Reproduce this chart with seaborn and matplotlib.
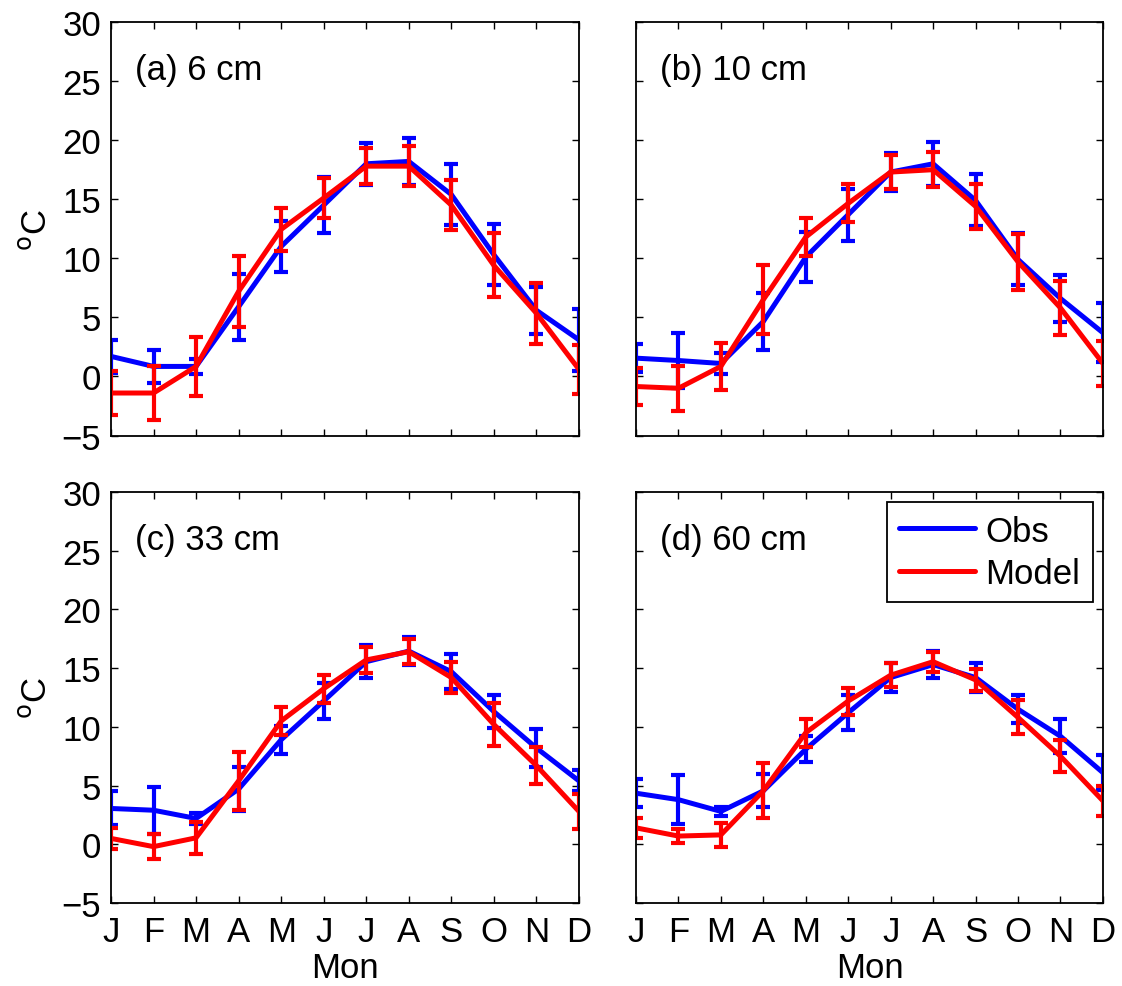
import numpy as np
import pandas as pd
import matplotlib
matplotlib.use("Agg")
import matplotlib.pyplot as plt
import seaborn as sns

# monthly soil temperature climatology, obs vs model, at four depths
months = ['J', 'F', 'M', 'A', 'M', 'J', 'J', 'A', 'S', 'O', 'N', 'D']
depths = ['(a) 6 cm', '(b) 10 cm', '(c) 33 cm', '(d) 60 cm']

obs_6 = [1.7, 0.85, 0.85, 5.9, 11.0, 14.5, 18.0, 18.2, 15.4, 10.3, 5.6, 3.1]
obs_6_err = [1.4, 1.4, 0.6, 2.8, 2.2, 2.4, 1.8, 2.0, 2.6, 2.6, 2.0, 2.6]
mod_6 = [-1.4, -1.4, 0.85, 7.2, 12.45, 15.1, 17.8, 17.8, 14.5, 9.4, 5.35, 0.6]
mod_6_err = [1.9, 2.3, 2.5, 3.0, 1.8, 1.7, 1.5, 1.7, 2.1, 2.7, 2.6, 2.1]

obs_10 = [1.55, 1.35, 1.1, 4.65, 10.1, 13.7, 17.3, 18.0, 14.9, 9.9, 6.6, 3.7]
obs_10_err = [1.2, 2.3, 0.9, 2.4, 2.1, 2.2, 1.6, 1.85, 2.2, 2.2, 2.0, 2.5]
mod_10 = [-0.85, -1.0, 0.85, 6.5, 11.8, 14.65, 17.3, 17.5, 14.4, 9.7, 5.8, 1.1]
mod_10_err = [1.6, 1.9, 2.0, 2.9, 1.6, 1.6, 1.45, 1.5, 1.9, 2.35, 2.25, 1.9]

obs_33 = [3.05, 2.9, 2.2, 4.7, 8.9, 12.2, 15.55, 16.45, 14.7, 11.3, 8.2, 5.4]
obs_33_err = [1.45, 2.0, 0.5, 1.9, 1.2, 1.5, 1.4, 1.2, 1.5, 1.4, 1.6, 0.9]
mod_33 = [0.5, -0.2, 0.55, 5.4, 10.5, 13.25, 15.7, 16.4, 14.2, 10.2, 6.7, 2.8]
mod_33_err = [0.9, 1.05, 1.35, 2.5, 1.2, 1.2, 1.1, 1.05, 1.3, 1.8, 1.6, 1.5]

obs_60 = [4.35, 3.8, 2.8, 4.55, 8.1, 11.2, 14.2, 15.3, 14.2, 11.5, 9.2, 6.1]
obs_60_err = [1.2, 2.1, 0.4, 1.4, 1.1, 1.5, 1.2, 1.15, 1.2, 1.2, 1.45, 1.5]
mod_60 = [1.4, 0.7, 0.8, 4.55, 9.5, 12.2, 14.4, 15.55, 14.0, 10.8, 7.5, 3.7]
mod_60_err = [0.85, 0.6, 1.0, 2.35, 1.2, 1.15, 1.0, 0.85, 0.95, 1.45, 1.35, 1.3]

series = {
    depths[0]: (obs_6, obs_6_err, mod_6, mod_6_err),
    depths[1]: (obs_10, obs_10_err, mod_10, mod_10_err),
    depths[2]: (obs_33, obs_33_err, mod_33, mod_33_err),
    depths[3]: (obs_60, obs_60_err, mod_60, mod_60_err),
}

# long table for seaborn
rows = []
for depth, (o, oe, m, me) in series.items():
    for i in range(12):
        rows.append({'depth': depth, 'month': i + 1, 'source': 'Obs', 'temp': o[i], 'err': oe[i]})
        rows.append({'depth': depth, 'month': i + 1, 'source': 'Model', 'temp': m[i], 'err': me[i]})
df = pd.DataFrame(rows)

palette = {'Obs': (0, 0, 1), 'Model': (1, 0, 0)}

sns.set_style('ticks', {'xtick.direction': 'in', 'ytick.direction': 'in',
                        'axes.edgecolor': 'black', 'text.color': 'black',
                        'axes.labelcolor': 'black', 'xtick.color': 'black',
                        'ytick.color': 'black'})
plt.rcParams['font.family'] = ['Liberation Sans', 'DejaVu Sans']
plt.rcParams['axes.linewidth'] = 1.3

FS = 25

fig = plt.figure(figsize=(11.22, 9.87), dpi=100)
positions = [
    [0.0989, 0.5577, 0.4171, 0.4190],
    [0.5668, 0.5577, 0.4162, 0.4190],
    [0.0989, 0.0841, 0.4171, 0.4164],
    [0.5668, 0.0841, 0.4162, 0.4164],
]

for k, depth in enumerate(depths):
    ax = fig.add_axes(positions[k])
    sub = df[df['depth'] == depth]
    for src in ['Obs', 'Model']:
        d = sub[sub['source'] == src]
        sns.lineplot(data=d, x='month', y='temp', color=palette[src], lw=3.6,
                     ax=ax, label=src, legend=False)
        ax.errorbar(d['month'], d['temp'], yerr=d['err'], fmt='none',
                    ecolor=palette[src], elinewidth=3, capsize=5, capthick=3)

    ax.set_xlim(1, 12)
    ax.set_ylim(-5, 30)
    ax.set_xticks(range(1, 13))
    ax.set_yticks(range(-5, 31, 5))
    ax.tick_params(axis='both', which='both', direction='in', top=True, right=True,
                   length=5, width=1, labelsize=FS, colors='black')
    ax.tick_params(axis='x', pad=9)
    ax.tick_params(axis='y', pad=7)
    ax.text(0.051, 0.884, depth, transform=ax.transAxes, fontsize=FS,
            va='center', ha='left', color='black')

    if k >= 2:
        ax.set_xticklabels(months)
        ax.set_xlabel('Mon', fontsize=FS, labelpad=2)
    else:
        ax.set_xticklabels([])
        ax.set_xlabel('')
    if k % 2 == 0:
        ax.set_ylabel('$^{\\mathrm{o}}$C', fontsize=FS, labelpad=6)
    else:
        ax.set_yticklabels([])
        ax.set_ylabel('')

    if k == 3:
        leg = ax.legend(loc='upper right', fontsize=FS, frameon=True, fancybox=False,
                        edgecolor='black', framealpha=1, handlelength=2.2,
                        handletextpad=0.3, borderaxespad=0.3, labelspacing=0.28,
                        borderpad=0.35)
        leg.get_frame().set_linewidth(1.3)
        for line in leg.get_lines():
            line.set_linewidth(3.6)

fig.savefig('out.png', dpi=100)
